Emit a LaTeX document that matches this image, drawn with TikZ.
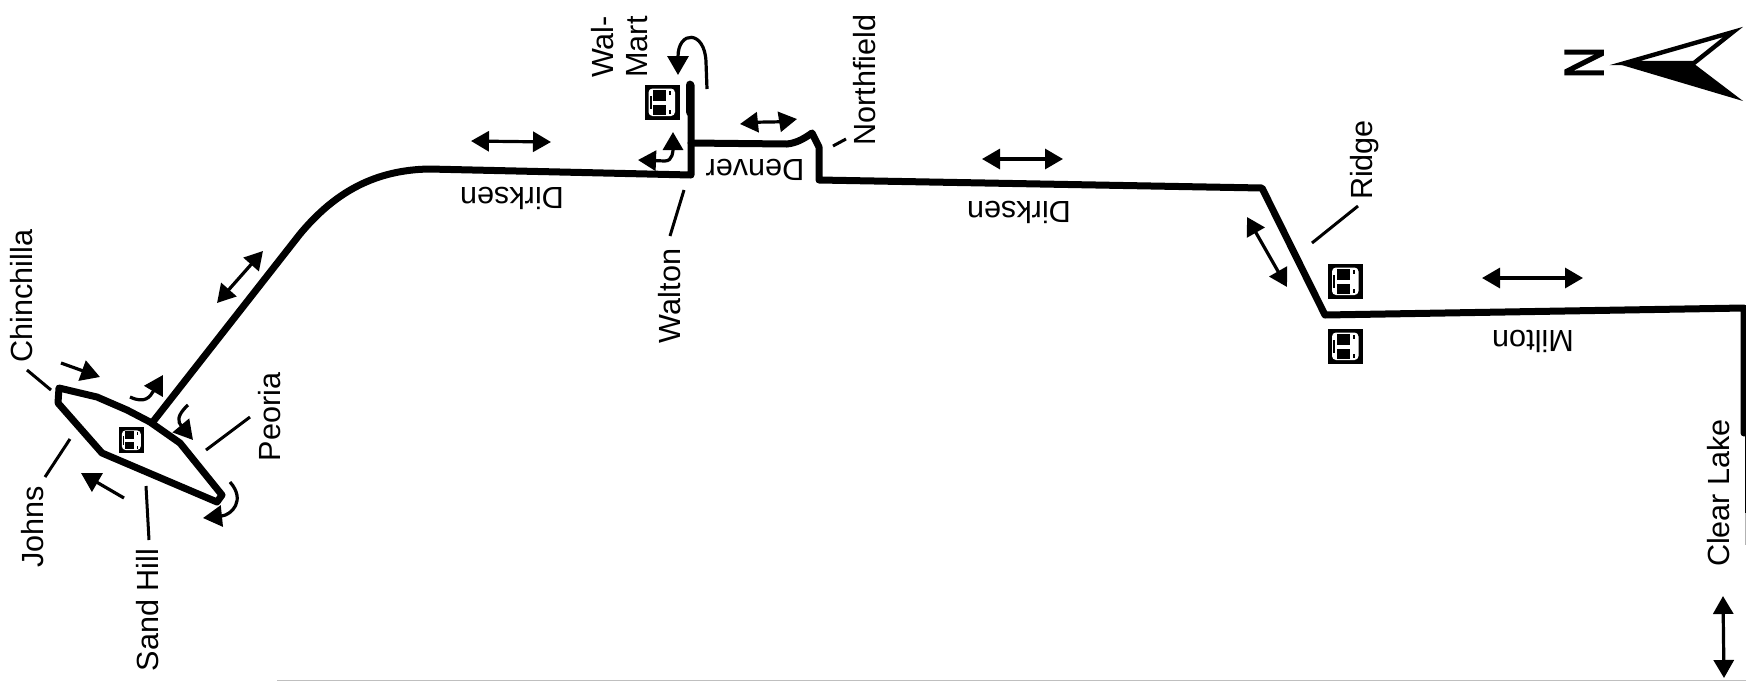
\documentclass[tikz,border=0pt]{standalone}
\usepackage{fontspec}
\setmainfont{Liberation Sans}
\newfontfamily\northfont[FakeBold=3]{Liberation Sans}
\usetikzlibrary{arrows.meta}
\tikzset{
	street/.style={line width=3.5pt,line join=round,line cap=round},
	leader/.style={line width=1.5pt},
	onearrow/.style={line width=1.6pt,-{Triangle[length=9.5pt,width=10.5pt]}},
	twoarrow/.style={line width=1.6pt,{Triangle[length=9pt,width=10pt]}-{Triangle[length=9pt,width=10pt]}},
	streetname/.style={font=\fontsize{15.3pt}{17pt}\selectfont,inner sep=0pt,align=center},
	pics/busstop/.style={code={
		\fill[black] (-17.5,-17.5) rectangle (17.5,17.5);
		\fill[white,rounded corners=2pt] (-13.5,-13.5) rectangle (13,14);
		\fill[black] (-9,-12.5) rectangle (4,-1);
		\fill[black] (-9,3) rectangle (4,13);
		\fill[black] (-12.5,-6) rectangle (-10.5,7);
		\fill[black] (7,-11) rectangle (9,-7);
		\fill[black] (7,8) rectangle (9,12);
	}}
}
\begin{document}
\begin{tikzpicture}[x=0.5pt,y=-0.5pt]
		\useasboundingbox (0,0) rectangle (1746,681);
		% route
		\coordinate (waltonturn) at (691,175);
		\coordinate (denverturn) at (691,143);
		\coordinate (loopjoin) at (152,423);
		\draw[street] (loopjoin) -- (300,234) .. controls (335,192) and (375,170) .. (429,169)
			-- (waltonturn) -- (691,85);
		\draw[street] (denverturn) -- (787,144) .. controls (797,143) and (805,138) .. (812,133)
			-- (819,147) -- (819,180) -- (1262,188) -- (1325,315) -- (1744,308) -- (1744,433);
		\draw[line width=4.4pt,line cap=round] (690,85) -- (690,112);
		% loop
		\draw[street] (59,388) -- (58,403) -- (102,453) -- (217,502) -- (222,495) -- (180,443)
			-- (150,422) -- (127,410) -- (97,397) -- cycle;
		% edge lines
		\draw[line width=1pt] (1745.5,433) -- (1745.5,513);
		\draw[black!30,line width=0.5pt] (1745.5,513) -- (1745.5,545);
		\draw[black!25,line width=0.6pt] (277,680.5) -- (1746,680.5);
		% stops
		\pic[scale=0.72] at (131.5,440) {busstop};
		\pic at (662,102) {busstop};
		\pic at (1345.5,281) {busstop};
		\pic at (1345.5,346) {busstop};
		% leaders
		\draw[leader] (27,370) -- (51,390);
		\draw[leader] (70,439) -- (45,477);
		\draw[leader] (146,486) -- (149,540);
		\draw[leader] (250,417) -- (206,450);
		\draw[leader] (684,190) -- (670,236);
		\draw[leader] (833,146) -- (846,139);
		\draw[leader] (1358,206) -- (1312,243);
		% labels
		\node[streetname,rotate=90] (chinchilla) at (22,296) {Chinchilla};
		\node[streetname,rotate=90] (johns) at (33,527) {Johns};
		\node[streetname,rotate=90] (sandhill) at (148,610) {Sand Hill};
		\node[streetname,rotate=90] (peoria) at (270,417) {Peoria};
		\node[streetname,rotate=90] (walton) at (670,296) {Walton};
		\node[streetname,rotate=90] (walmart) at (620,47) {Wal-\\Mart};
		\node[streetname,rotate=90] (northfield) at (865,80) {Northfield};
		\node[streetname,rotate=90] (ridge) at (1365,160) {Ridge};
		\node[streetname,rotate=90] (clearlake) at (1719,493) {Clear Lake};
		\node[streetname,rotate=180] (dirksena) at (512,198) {Dirksen};
		\node[streetname,rotate=180] (denver) at (755,170) {Denver};
		\node[streetname,rotate=180] (dirksenb) at (1019,212) {Dirksen};
		\node[streetname,rotate=180] (milton) at (1533,341) {Milton};
		% two way arrows
		\draw[twoarrow] (217,303) -- (263,251);
		\draw[twoarrow] (471,141) -- (551,142);
		\draw[twoarrow] (740,124) .. controls (760,122) and (778,122) .. (797,119);
		\draw[twoarrow] (982,159) -- (1063,159);
		\draw[twoarrow] (1247,217) -- (1287,287);
		\draw[twoarrow] (1482,278) -- (1583,278);
		\draw[twoarrow] (1723,596) -- (1724,678);
		\draw[twoarrow] (638,160) -- (665,161) .. controls (673,161) and (673,150) .. (673,132);
		% one way arrows
		\draw[onearrow] (61,363) -- (100,377);
		\draw[onearrow] (124,498) -- (81,473);
		\draw[onearrow] (130,397) .. controls (145,404) and (150,397) .. (163,375);
		\draw[onearrow] (188,405) .. controls (176,416) and (178,422) .. (193,440);
		\draw[onearrow] (230,482) .. controls (246,500) and (232,515) .. (203,518);
		\draw[onearrow] (707,89) -- (706,62) .. controls (705,30) and (678,30) .. (678,75);
		% north
		\node[font=\northfont\fontsize{22pt}{22pt}\selectfont,rotate=90,yscale=1.25,inner sep=0pt] (north) at (1584,62.5) {N};
		\draw[fill=white,line width=2.2pt,miter limit=10] (1625,63) -- (1733,32) -- (1694,63) -- cycle;
		\fill (1615,63) -- (1693,63) -- (1743,101) -- cycle;
		\end{tikzpicture}
\end{document}
